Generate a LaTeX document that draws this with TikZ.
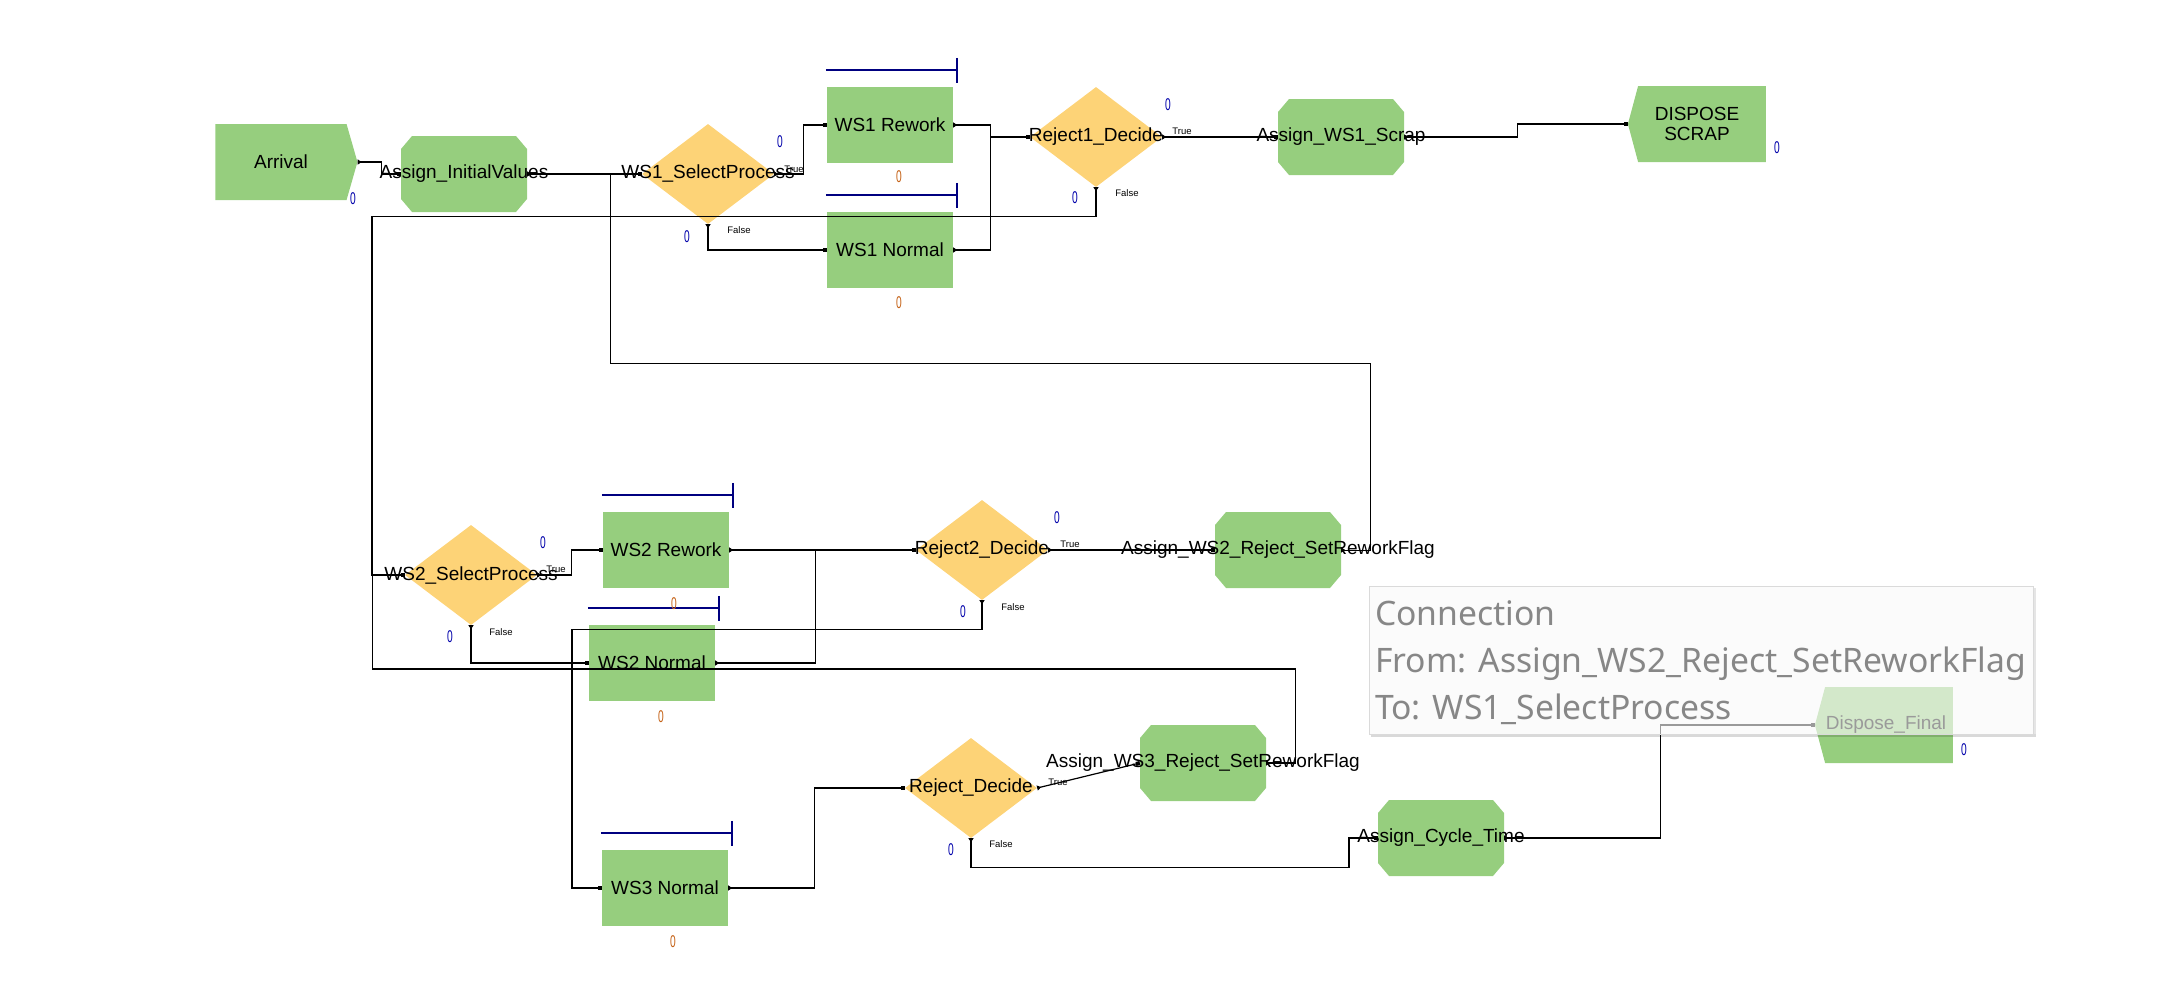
\documentclass[tikz,border=0pt]{standalone}
\usepackage{fontspec}
\setmainfont{Liberation Sans}
\newfontfamily\tipfont{Noto Sans}
\usepackage{graphicx}
\usepackage{xcolor}
\usepackage{tikz}
\usetikzlibrary{arrows.meta, positioning, shapes.geometric, shapes.symbols}

\definecolor{modgreen}{RGB}{150,206,126}
\definecolor{decyellow}{RGB}{253,211,119}
\definecolor{qblue}{RGB}{0,0,128}
\definecolor{cblue}{RGB}{0,0,170}
\definecolor{corange}{RGB}{196,96,20}
\definecolor{tipgray}{RGB}{135,135,135}
\definecolor{tipfill}{RGB}{249,249,249}
\definecolor{tipborder}{RGB}{218,218,218}

\newcommand{\cntzero}{\scalebox{0.6}[1]{0}}

\begin{document}
\begin{tikzpicture}[x=1pt, y=-1pt,
    modtext/.style={font=\fontsize{19}{20}\selectfont, inner sep=0pt},
    process/.style={rectangle, fill=modgreen, minimum width=126pt, minimum height=76pt, inner sep=0pt},
    assign/.style={rectangle, minimum width=126pt, minimum height=76pt, inner sep=0pt,
        path picture={\fill[modgreen]
            ([xshift=11pt]path picture bounding box.north west) -- ([xshift=-11pt]path picture bounding box.north east)
            -- ([yshift=-13pt]path picture bounding box.north east) -- ([yshift=13pt]path picture bounding box.south east)
            -- ([xshift=-11pt]path picture bounding box.south east) -- ([xshift=11pt]path picture bounding box.south west)
            -- ([yshift=13pt]path picture bounding box.south west) -- ([yshift=-13pt]path picture bounding box.north west) -- cycle;}},
    decide/.style={diamond, fill=decyellow, minimum width=132pt, minimum height=100pt, inner sep=0pt},
    create/.style={signal, signal to=east, signal pointer angle=148, fill=modgreen, minimum width=142pt, minimum height=76pt, inner sep=0pt},
    dispose/.style={signal, signal to=west, signal pointer angle=150, fill=modgreen, minimum width=138pt, minimum height=76pt, inner sep=0pt},
    cntb/.style={font=\fontsize{17}{17}\selectfont, text=cblue, inner sep=0pt},
    cnto/.style={font=\fontsize{17}{17}\selectfont, text=corange, inner sep=0pt},
    brch/.style={font=\fontsize{9.5}{10}\selectfont, inner sep=0pt},
    conn/.style={line width=1.2pt, {Triangle[reversed, length=4pt, width=5pt]}-{Square[length=4pt, width=4pt]}},
    thinconn/.style={conn, line width=0.9pt},
    queue/.style={qblue, line width=1.5pt},
    tiptext/.style={font=\tipfont\fontsize{33.7}{34}\selectfont, text=tipgray, inner sep=0pt, anchor=base west}
]
    \useasboundingbox (0,0) rectangle (2170,993);

    % modules
    \node[create] (arr) at (281,162) {};
    \node[assign] (init) at (464,174) {};
    \node[decide] (sel1) at (708,174) {};
    \node[process] (ws1r) at (890,125) {};
    \node[process] (ws1n) at (890,250) {};
    \node[decide] (rej1) at (1096,137) {};
    \node[assign] (scrap1) at (1341,137) {};
    \node[dispose] (dscrap) at (1702,124) {};
    \node[decide] (sel2) at (471,575) {};
    \node[process] (ws2r) at (666,550) {};
    \node[process] (ws2n) at (652,663) {};
    \node[decide] (rej2) at (982,550) {};
    \node[assign] (flag2) at (1278,550) {};
    \node[process] (ws3n) at (665,888) {};
    \node[decide] (rej3) at (971,788) {};
    \node[assign] (flag3) at (1203,763) {};
    \node[assign] (cyc) at (1441,838) {};
    \node[dispose] (dfinal) at (1889,725) {};

    % module names
    \node[modtext] (arr-t) at (arr) {Arrival};
    \node[modtext] (init-t) at (init) {Assign\_InitialValues};
    \node[modtext] (sel1-t) at (sel1) {WS1\_SelectProcess};
    \node[modtext] (ws1r-t) at (ws1r) {WS1 Rework};
    \node[modtext] (ws1n-t) at (ws1n) {WS1 Normal};
    \node[modtext] (rej1-t) at (rej1) {Reject1\_Decide};
    \node[modtext] (scrap1-t) at (scrap1) {Assign\_WS1\_Scrap};
    \node[modtext, align=center] (dscrap-t) at ([xshift=-5pt]dscrap.center) {DISPOSE\\SCRAP};
    \node[modtext] (sel2-t) at (sel2) {WS2\_SelectProcess};
    \node[modtext] (ws2r-t) at (ws2r) {WS2 Rework};
    \node[modtext] (ws2n-t) at (ws2n) {WS2 Normal};
    \node[modtext] (rej2-t) at (rej2) {Reject2\_Decide};
    \node[modtext] (flag2-t) at (flag2) {Assign\_WS2\_Reject\_SetReworkFlag};
    \node[modtext] (ws3n-t) at (ws3n) {WS3 Normal};
    \node[modtext] (rej3-t) at (rej3) {Reject\_Decide};
    \node[modtext] (flag3-t) at (flag3) {Assign\_WS3\_Reject\_SetReworkFlag};
    \node[modtext] (cyc-t) at (cyc) {Assign\_Cycle\_Time};
    \node[modtext] (dfinal-t) at ([xshift=-3pt]dfinal.center) {Dispose\_Final};

    % connections
    \draw[conn] (arr.east) -- ++(24,0) |- (init.west);
    \draw[conn] (init.east) -- (sel1.west);
    \draw[conn] (sel1.east) -- ++(29,0) |- (ws1r.west);
    \draw[conn] (sel1.south) |- (ws1n.west);
    \draw[conn] (ws1r.east) -- ++(37,0) |- (rej1.west);
    \draw[conn] (ws1n.east) -- ++(37,0) |- (rej1.west);
    \draw[conn] (rej1.east) -- (scrap1.west);
    \draw[conn] (scrap1.east) -- ++(113,0) |- (dscrap.west);
    \draw[conn] (rej1.south) |- ++(-724,29) |- (sel2.west);
    \draw[thinconn] (flag2.east) -- ++(29,0) |- ++(-760,-187) |- (sel1.west);
    \draw[conn] (sel2.east) -- ++(34,0) |- (ws2r.west);
    \draw[conn] (sel2.south) |- (ws2n.west);
    \draw[conn] (ws2r.east) -- (rej2.west);
    \draw[conn] (ws2n.east) -- ++(100,0) |- (rej2.west);
    \draw[conn] (rej2.east) -- (flag2.west);
    \draw[conn] (rej2.south) |- ++(-410,29) |- (ws3n.west);
    \draw[conn] (ws3n.east) -- ++(86,0) |- (rej3.west);
    \draw[conn] (rej3.east) -- (flag3.west);
    \draw[conn] (flag3.east) -- ++(29,0) |- ++(-923,-94) |- (sel2.west);
    \draw[conn] (rej3.south) |- ++(378,29) |- (cyc.west);
    \draw[conn] (cyc.east) -- ++(156,0) |- (dfinal.west);

    % branch labels
    \node[brch] (sel1-y) at (794,169) {True};
    \node[brch] (sel1-n) at (739,230) {False};
    \node[brch] (rej1-y) at (1182,131) {True};
    \node[brch] (rej1-n) at (1127,193) {False};
    \node[brch] (sel2-y) at (556,569) {True};
    \node[brch] (sel2-n) at (501,632) {False};
    \node[brch] (rej2-y) at (1070,544) {True};
    \node[brch] (rej2-n) at (1013,607) {False};
    \node[brch] (rej3-y) at (1058,782) {True};
    \node[brch] (rej3-n) at (1001,844) {False};

    % queues
    \foreach \q in {ws1r, ws1n, ws2r, ws2n, ws3n}
        \draw[queue] ([shift={(-1,-17)}]\q.north west) -- ++(131,0) ++(0,-12) -- ++(0,25);

    % counters
    \node[cntb] (arr-c) at (353,199) {\cntzero};
    \node[cntb] (sel1-cy) at (780,142) {\cntzero};
    \node[cntb] (sel1-cn) at (687,237) {\cntzero};
    \node[cntb] (rej1-cy) at (1168,105) {\cntzero};
    \node[cntb] (rej1-cn) at (1075,198) {\cntzero};
    \node[cntb] (dscrap-c) at (1777,148) {\cntzero};
    \node[cntb] (sel2-cy) at (543,543) {\cntzero};
    \node[cntb] (sel2-cn) at (450,637) {\cntzero};
    \node[cntb] (rej2-cy) at (1057,518) {\cntzero};
    \node[cntb] (rej2-cn) at (963,612) {\cntzero};
    \node[cntb] (rej3-cn) at (951,850) {\cntzero};
    \node[cntb] (dfinal-c) at (1964,750) {\cntzero};
    \node[cnto] (ws1r-c) at (899,177) {\cntzero};
    \node[cnto] (ws1n-c) at (899,303) {\cntzero};
    \node[cnto] (ws2r-c) at (674,604) {\cntzero};
    \node[cnto] (ws2n-c) at (661,717) {\cntzero};
    \node[cnto] (ws3n-c) at (673,942) {\cntzero};

    % tooltip
    \fill[black, opacity=0.15] (1371,734) rectangle (2036,737);
    \fill[black, opacity=0.10] (2033,588) rectangle (2036,734);
    \node[draw=tipborder, fill=tipfill, fill opacity=0.62, line width=0.8pt, minimum width=664pt, minimum height=148pt, inner sep=0pt] (tip) at (1701,660) {};
    \node[tiptext] (tip-a) at (1375,625) {Connection};
    \node[tiptext] (tip-b) at (1375,672) {From: Assign\_WS2\_Reject\_SetReworkFlag};
    \node[tiptext] (tip-c) at (1375,719) {To: WS1\_SelectProcess};
\end{tikzpicture}
\end{document}
